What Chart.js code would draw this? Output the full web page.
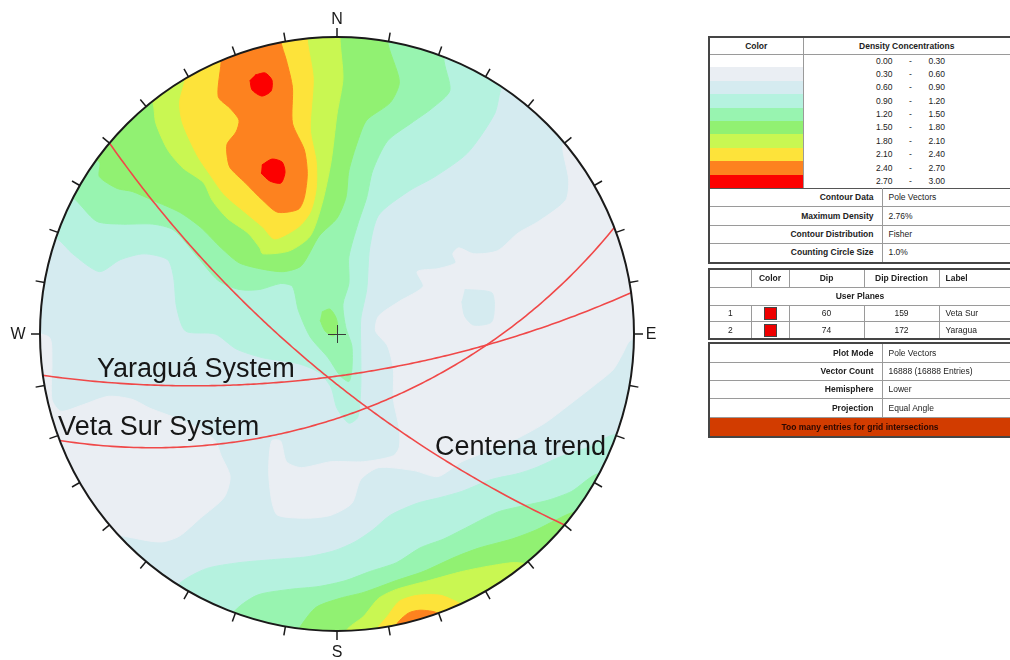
<!DOCTYPE html>
<html>

<head>
    <title>Pole Density Stereonet</title>
    <script src="https://cdn.jsdelivr.net/npm/chart.js"></script>
    <style>
        body {
            margin: 0;
            background: #fff;
            font-family: "Liberation Sans", Arial, sans-serif;
        }

        #net {
            position: absolute;
            left: 0;
            top: 0;
        }

        .box {
            position: absolute;
            left: 708px;
            width: 300px;
            border: 2px solid #454545;
            background: #fff;
        }

        .box table {
            width: 100%;
            border-collapse: collapse;
            table-layout: fixed;
            font-size: 8.5px;
            color: #222;
        }

        .box td {
            border: 1px solid #9a9a9a;
            padding: 0;
            white-space: nowrap;
            overflow: hidden;
            line-height: 1;
        }

        .box tr td:first-child { border-left: 0; }
        .box tr td:last-child { border-right: 0; }
        .box table tr:first-child td { border-top: 0; }
        .box table tr:last-child td { border-bottom: 0; }
        .box table + table { border-top: 1px solid #555; }

        .hd td, .lab, .sub td { font-weight: bold; text-align: center; }
        .lab { text-align: right !important; padding-right: 8px !important; }
        .val { padding-left: 6px !important; }
        .lv td { border-top: 0 !important; border-bottom: 0 !important; }
        .lo { display: inline-block; width: 89px; text-align: right; }
        .dash { display: inline-block; width: 36px; text-align: center; }
        .mid { text-align: center; }
        .sw { display: inline-block; width: 11px; height: 11px; background: #ee0000; border: 1px solid #444; vertical-align: middle; }
        .warn td { background: #d23c00; color: #2a0800; font-weight: bold; text-align: center; }
    </style>
</head>

<body>
    <canvas id="net" width="1010" height="660"></canvas>
    <div class="box" id="density-box" style="top: 36px;"></div>
    <div class="box" id="planes-box" style="top: 268px;"></div>
    <div class="box" id="plot-box" style="top: 342px;"></div>
    <script>
        // density classes (% of poles per counting circle)
        var densityBreaks = [0.00, 0.30, 0.60, 0.90, 1.20, 1.50, 1.80, 2.10, 2.40, 2.70, 3.00];
        var densityColors = ['#ffffff', '#eaeef3', '#d5ebf0', '#b5f2df', '#98f4b0', '#91f172', '#c9f752', '#fde33a', '#fd821f', '#fc0000'];
        var baseClass = 2;

        var contourInfo = [
            ['Contour Data', 'Pole Vectors'],
            ['Maximum Density', '2.76%'],
            ['Contour Distribution', 'Fisher'],
            ['Counting Circle Size', '1.0%']
        ];
        var plotInfo = [
            ['Plot Mode', 'Pole Vectors'],
            ['Vector Count', '16888 (16888 Entries)'],
            ['Hemisphere', 'Lower'],
            ['Projection', 'Equal Angle']
        ];

        // user planes
        var planeLabels = ['Veta Sur', 'Yaragua'];
        var planeDips = [60, 74];
        var planeDipDirs = [159, 172];
        // trend plane, not in the user plane table
        var trendDip = 75;
        var trendDipDir = 220;

        var cardinals = ['N', 'E', 'S', 'W'];

        // contour outlines in net units (primitive circle radius = 1), x east, y north
        var lowEast = [[0.78, 0.69], [0.76, 0.63], [0.78, 0.52], [0.77, 0.45], [0.68, 0.38], [0.61, 0.34], [0.54, 0.28], [0.46, 0.27], [0.41, 0.29], [0.39, 0.27], [0.40, 0.24], [0.34, 0.22], [0.27, 0.21], [0.29, 0.16], [0.21, 0.11], [0.14, 0.06], [0.13, 0.01], [0.17, -0.04], [0.19, -0.12], [0.19, -0.22], [0.21, -0.32], [0.21, -0.38], [0.19, -0.41], [0.09, -0.43], [-0.02, -0.43], [-0.12, -0.45], [-0.17, -0.43], [-0.19, -0.36], [-0.22, -0.36], [-0.23, -0.46], [-0.22, -0.56], [-0.20, -0.61], [-0.10, -0.62], [-0.02, -0.61], [0.05, -0.57], [0.08, -0.49], [0.14, -0.45], [0.26, -0.46], [0.34, -0.48], [0.42, -0.43], [0.52, -0.39], [0.61, -0.35], [0.70, -0.30], [0.78, -0.24], [0.87, -0.17], [0.93, -0.12], [0.96, -0.07], [0.99, -0.02], [1.1, 0], [1.1, 0.69]];
        var lowWest = [[-1.1, 0.01], [-0.97, -0.01], [-0.96, -0.09], [-0.96, -0.22], [-0.93, -0.26], [-0.86, -0.24], [-0.77, -0.21], [-0.69, -0.22], [-0.63, -0.25], [-0.55, -0.28], [-0.46, -0.32], [-0.41, -0.36], [-0.39, -0.41], [-0.36, -0.48], [-0.38, -0.55], [-0.46, -0.62], [-0.53, -0.68], [-0.59, -0.70], [-0.67, -0.69], [-0.77, -0.66], [-1.1, -0.3]];
        var paleIsland = [[0.43, 0.15], [0.52, 0.14], [0.53, 0.10], [0.52, 0.04], [0.46, 0.03], [0.43, 0.06], [0.42, 0.11]];

        var mintNorth = [[-0.97, 0.33], [-0.94, 0.32], [-0.89, 0.27], [-0.80, 0.21], [-0.73, 0.25], [-0.65, 0.27], [-0.57, 0.25], [-0.55, 0.19], [-0.54, 0.09], [-0.51, 0.01], [-0.41, 0.00], [-0.34, -0.05], [-0.25, -0.08], [-0.13, -0.10], [-0.06, -0.13], [-0.02, -0.18], [0.00, -0.25], [0.04, -0.30], [0.07, -0.28], [0.08, -0.18], [0.08, -0.05], [0.08, 0.05], [0.10, 0.15], [0.11, 0.29], [0.14, 0.40], [0.24, 0.48], [0.33, 0.53], [0.44, 0.61], [0.53, 0.74], [0.55, 0.82], [0.58, 0.92], [0.6, 1.1], [-0.6, 1.1], [-1.1, 0.4]];
        var lightNorth = [[-0.95, 0.48], [-0.89, 0.46], [-0.81, 0.38], [-0.73, 0.37], [-0.62, 0.37], [-0.55, 0.35], [-0.47, 0.26], [-0.40, 0.18], [-0.33, 0.15], [-0.26, 0.15], [-0.19, 0.17], [-0.15, 0.16], [-0.13, 0.08], [-0.09, -0.01], [-0.03, -0.08], [0.01, -0.14], [0.04, -0.16], [0.05, -0.12], [0.05, -0.04], [0.03, 0.02], [0.02, 0.10], [0.04, 0.17], [0.04, 0.26], [0.07, 0.37], [0.10, 0.46], [0.12, 0.55], [0.17, 0.65], [0.25, 0.71], [0.32, 0.76], [0.38, 0.82], [0.36, 0.93], [0.4, 1.1], [-0.5, 1.1], [-1.0, 0.55]];
        var greenNorth = [[-0.87, 0.60], [-0.80, 0.58], [-0.80, 0.53], [-0.74, 0.49], [-0.69, 0.48], [-0.62, 0.45], [-0.53, 0.41], [-0.46, 0.36], [-0.39, 0.29], [-0.33, 0.24], [-0.26, 0.22], [-0.18, 0.21], [-0.12, 0.23], [-0.06, 0.33], [0.00, 0.39], [0.03, 0.46], [0.04, 0.55], [0.07, 0.65], [0.10, 0.72], [0.18, 0.78], [0.21, 0.85], [0.17, 0.99], [0.2, 1.1], [-0.5, 1.1]];
        var greenSpot = [[-0.051, 0.074], [-0.024, 0.084], [-0.003, 0.054], [0.003, 0.013], [-0.013, -0.007], [-0.040, 0.010], [-0.057, 0.047]];
        var limeNorth = [[-0.66, 0.92], [-0.66, 0.86], [-0.62, 0.78], [-0.61, 0.71], [-0.57, 0.62], [-0.52, 0.56], [-0.45, 0.51], [-0.42, 0.45], [-0.37, 0.39], [-0.30, 0.34], [-0.26, 0.29], [-0.25, 0.27], [-0.16, 0.28], [-0.09, 0.33], [-0.05, 0.44], [-0.02, 0.58], [0.00, 0.74], [0.02, 0.86], [0.01, 1.0], [0.02, 1.1], [-0.6, 1.1]];
        var yellowNorth = [[-0.53, 0.96], [-0.51, 0.87], [-0.53, 0.78], [-0.52, 0.71], [-0.47, 0.60], [-0.43, 0.54], [-0.38, 0.47], [-0.31, 0.41], [-0.25, 0.36], [-0.21, 0.32], [-0.13, 0.36], [-0.09, 0.41], [-0.07, 0.49], [-0.07, 0.58], [-0.09, 0.69], [-0.08, 0.86], [-0.10, 0.99], [-0.10, 1.1], [-0.53, 1.1]];
        var orangeNorth = [[-0.41, 0.99], [-0.39, 0.93], [-0.40, 0.80], [-0.36, 0.76], [-0.33, 0.72], [-0.34, 0.68], [-0.37, 0.64], [-0.37, 0.60], [-0.36, 0.56], [-0.31, 0.51], [-0.25, 0.45], [-0.20, 0.41], [-0.13, 0.42], [-0.11, 0.46], [-0.10, 0.54], [-0.11, 0.62], [-0.15, 0.71], [-0.15, 0.83], [-0.17, 0.92], [-0.19, 0.99], [-0.19, 1.1], [-0.41, 1.1]];
        var peakUpper = [[-0.276, 0.872], [-0.242, 0.879], [-0.219, 0.855], [-0.222, 0.818], [-0.253, 0.801], [-0.286, 0.822], [-0.293, 0.855]];
        var peakLower = [[-0.253, 0.569], [-0.219, 0.589], [-0.185, 0.579], [-0.175, 0.545], [-0.189, 0.508], [-0.226, 0.515], [-0.256, 0.542]];

        var mintSouth = [[-0.55, -0.90], [-0.53, -0.84], [-0.44, -0.79], [-0.33, -0.77], [-0.22, -0.76], [-0.10, -0.75], [-0.01, -0.73], [0.06, -0.70], [0.12, -0.66], [0.18, -0.61], [0.27, -0.57], [0.35, -0.55], [0.42, -0.53], [0.52, -0.49], [0.61, -0.47], [0.67, -0.45], [0.76, -0.41], [0.85, -0.38], [0.93, -0.34], [1.1, -0.34], [1.1, -1.1], [-0.55, -1.1]];
        var lightSouth = [[-0.38, -1.06], [-0.35, -0.94], [-0.27, -0.88], [-0.16, -0.86], [-0.06, -0.85], [0.03, -0.83], [0.11, -0.80], [0.20, -0.77], [0.28, -0.72], [0.36, -0.69], [0.42, -0.66], [0.54, -0.60], [0.62, -0.58], [0.71, -0.56], [0.79, -0.53], [0.88, -0.47], [1.1, -0.47], [1.1, -1.1], [-0.38, -1.1]];
        var greenSouth = [[-0.16, -1.05], [-0.12, -0.98], [-0.07, -0.92], [0.01, -0.89], [0.09, -0.87], [0.20, -0.83], [0.29, -0.80], [0.40, -0.75], [0.48, -0.72], [0.59, -0.69], [0.67, -0.66], [0.73, -0.63], [0.80, -0.60], [1.0, -0.6], [1.0, -1.1], [-0.16, -1.1]];
        var limeSouth = [[0.03, -1.06], [0.03, -1.00], [0.09, -0.95], [0.14, -0.89], [0.20, -0.86], [0.31, -0.83], [0.42, -0.80], [0.52, -0.78], [0.61, -0.77], [0.7, -0.8], [0.7, -1.1], [0.03, -1.1]];
        var yellowSouth = [[0.12, -1.06], [0.13, -1.00], [0.17, -0.95], [0.21, -0.90], [0.27, -0.88], [0.35, -0.88], [0.42, -0.91], [0.5, -0.95], [0.5, -1.1], [0.12, -1.1]];
        var orangeSouth = [[0.20, -1.06], [0.20, -0.98], [0.24, -0.94], [0.28, -0.93], [0.34, -0.94], [0.4, -1.0], [0.4, -1.1], [0.2, -1.1]];

        // [density class, outline]
        var patches = [
            [1, lowEast], [1, lowWest], [2, paleIsland],
            [3, mintNorth], [3, mintSouth],
            [4, lightNorth], [4, lightSouth],
            [5, greenNorth], [5, greenSpot], [5, greenSouth],
            [6, limeNorth], [6, limeSouth],
            [7, yellowNorth], [7, yellowSouth],
            [8, orangeNorth], [8, orangeSouth],
            [9, peakUpper], [9, peakLower]
        ];

        // lower hemisphere, equal angle trace of a plane
        function planeTrace(dip, dipDir) {
            var rad = Math.PI / 180;
            var d = dip * rad, a = dipDir * rad, s = a - Math.PI / 2;
            var pts = [];
            for (var t = 0; t <= 180; t++) {
                var c = Math.cos(t * rad), sn = Math.sin(t * rad);
                var e = c * Math.sin(s) + sn * Math.sin(a) * Math.cos(d);
                var n = c * Math.cos(s) + sn * Math.cos(a) * Math.cos(d);
                var plunge = Math.asin(Math.min(1, sn * Math.sin(d)));
                var trend = Math.atan2(e, n);
                var r = Math.tan((Math.PI / 2 - plunge) / 2);
                pts.push({ x: r * Math.sin(trend), y: r * Math.cos(trend) });
            }
            return pts;
        }

        var datasets = patches.map(function(p) {
            var col = densityColors[p[0]];
            return {
                data: p[1].map(function(v) { return { x: v[0], y: v[1] }; }),
                showLine: true,
                fill: 'shape',
                tension: 0.25,
                backgroundColor: col,
                borderColor: col,
                borderWidth: 1,
                pointRadius: 0,
                order: 100 - p[0] * 10
            };
        });

        var traces = [
            planeTrace(planeDips[0], planeDipDirs[0]),
            planeTrace(planeDips[1], planeDipDirs[1]),
            planeTrace(trendDip, trendDipDir)
        ];
        traces.forEach(function(tr) {
            datasets.push({
                data: tr,
                showLine: true,
                fill: false,
                borderColor: '#f04848',
                borderWidth: 1.6,
                pointRadius: 0,
                order: 0
            });
        });

        // text placed on the net, anchored at the left end of the baseline
        var netLabels = [
            { text: 'Yaraguá System', x: -0.808, y: -0.145 },
            { text: 'Veta Sur System', x: -0.939, y: -0.340 },
            { text: 'Centena trend', x: 0.330, y: -0.407 }
        ];
        // gap between the circle and each cardinal letter: N, E, S, W
        var cardinalGap = [18, 17, 21, 22];

        var netFrame = {
            id: 'netFrame',
            beforeDatasetsDraw: function(chart) {
                var ctx = chart.ctx, sx = chart.scales.x, sy = chart.scales.y;
                var cx = sx.getPixelForValue(0), cy = sy.getPixelForValue(0);
                var r = sx.getPixelForValue(1) - cx;
                ctx.save();
                ctx.beginPath();
                ctx.arc(cx, cy, r, 0, Math.PI * 2);
                ctx.clip();
                ctx.fillStyle = densityColors[baseClass];
                ctx.fill();
            },
            afterDatasetsDraw: function(chart) {
                var ctx = chart.ctx, sx = chart.scales.x, sy = chart.scales.y;
                ctx.restore();
                var cx = sx.getPixelForValue(0), cy = sy.getPixelForValue(0);
                var r = sx.getPixelForValue(1) - cx;

                ctx.save();
                ctx.strokeStyle = '#1a1a1a';
                ctx.lineWidth = 2;
                ctx.beginPath();
                ctx.arc(cx, cy, r, 0, Math.PI * 2);
                ctx.stroke();

                // 10 degree ticks
                ctx.lineWidth = 1.5;
                for (var az = 0; az < 360; az += 10) {
                    var a = az * Math.PI / 180;
                    ctx.beginPath();
                    ctx.moveTo(cx + r * Math.sin(a), cy - r * Math.cos(a));
                    ctx.lineTo(cx + (r + 9) * Math.sin(a), cy - (r + 9) * Math.cos(a));
                    ctx.stroke();
                }

                ctx.fillStyle = '#1a1a1a';
                ctx.font = '16px "Liberation Sans", Arial, sans-serif';
                ctx.textAlign = 'center';
                ctx.textBaseline = 'middle';
                cardinals.forEach(function(c, i) {
                    var a = i * Math.PI / 2, g = r + cardinalGap[i];
                    ctx.fillText(c, cx + g * Math.sin(a), cy - g * Math.cos(a) + 1);
                });

                // centre mark
                ctx.strokeStyle = '#3a3a3a';
                ctx.lineWidth = 1;
                ctx.beginPath();
                ctx.moveTo(cx - 9, cy + 0.5);
                ctx.lineTo(cx + 9, cy + 0.5);
                ctx.moveTo(cx + 0.5, cy - 9);
                ctx.lineTo(cx + 0.5, cy + 9);
                ctx.stroke();

                ctx.font = '27px "Liberation Sans", Arial, sans-serif';
                ctx.textAlign = 'left';
                ctx.textBaseline = 'alphabetic';
                ctx.fillStyle = '#161616';
                netLabels.forEach(function(l) {
                    ctx.fillText(l.text, sx.getPixelForValue(l.x), sy.getPixelForValue(l.y));
                });
                ctx.restore();
            }
        };

        new Chart(document.getElementById('net').getContext('2d'), {
            type: 'scatter',
            data: { datasets: datasets },
            options: {
                responsive: false,
                animation: false,
                layout: { padding: { left: 40, top: 37, right: 376, bottom: 29 } },
                scales: {
                    x: { min: -1, max: 1, display: false },
                    y: { min: -1, max: 1, display: false }
                },
                plugins: {
                    legend: { display: false },
                    tooltip: { enabled: false }
                }
            },
            plugins: [netFrame]
        });

        // side tables
        function infoRows(rows, h) {
            return rows.map(function(r) {
                return '<tr style="height:' + h + 'px"><td class="lab">' + r[0] + '</td><td class="val">' + r[1] + '</td></tr>';
            }).join('');
        }

        var html = '<table><colgroup><col style="width:93px"><col></colgroup>' +
            '<tr class="hd" style="height:16px"><td>Color</td><td>Density Concentrations</td></tr>';
        for (var i = 0; i < densityColors.length; i++) {
            html += '<tr class="lv" style="height:13.4px"><td style="background:' + densityColors[i] + '"></td><td>' +
                '<span class="lo">' + densityBreaks[i].toFixed(2) + '</span><span class="dash">-</span>' +
                densityBreaks[i + 1].toFixed(2) + '</td></tr>';
        }
        html += '</table><table><colgroup><col style="width:172px"><col></colgroup>' + infoRows(contourInfo, 18.3) + '</table>';
        document.getElementById('density-box').innerHTML = html;

        html = '<table><colgroup><col style="width:41px"><col style="width:38px"><col style="width:75px"><col style="width:75px"><col></colgroup>' +
            '<tr class="hd" style="height:17px"><td></td><td>Color</td><td>Dip</td><td>Dip Direction</td><td style="text-align:left;padding-left:6px">Label</td></tr>' +
            '<tr class="sub" style="height:18px"><td colspan="5">User Planes</td></tr>';
        for (var j = 0; j < planeLabels.length; j++) {
            html += '<tr style="height:16.5px"><td class="mid">' + (j + 1) + '</td><td class="mid"><span class="sw"></span></td><td class="mid">' +
                planeDips[j] + '</td><td class="mid">' + planeDipDirs[j] + '</td><td class="val">' + planeLabels[j] + '</td></tr>';
        }
        html += '</table>';
        document.getElementById('planes-box').innerHTML = html;

        html = '<table><colgroup><col style="width:172px"><col></colgroup>' + infoRows(plotInfo, 18.3) +
            '<tr class="warn" style="height:19px"><td colspan="2">Too many entries for grid intersections</td></tr></table>';
        document.getElementById('plot-box').innerHTML = html;
    </script>
</body>

</html>
